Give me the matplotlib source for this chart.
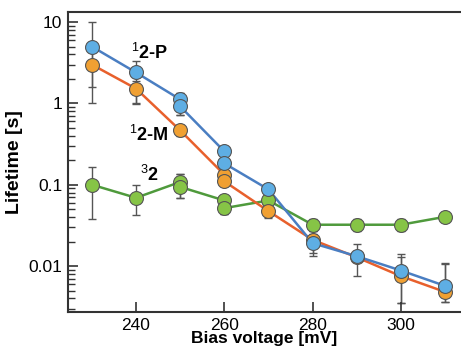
import numpy as np
import matplotlib.pyplot as plt
from matplotlib.ticker import LogLocator, NullFormatter

plt.rcParams['font.family'] = ['Liberation Sans', 'DejaVu Sans']
plt.rcParams['mathtext.fontset'] = 'custom'
plt.rcParams['mathtext.rm'] = 'Liberation Sans'

# bias voltage (mV); repeated voltages are repeated measurements
bias_p = [230, 240, 250, 250, 260, 260, 270, 280, 290, 300, 310]
life_p = [5.0, 2.4, 1.12, 0.92, 0.257, 0.183, 0.0875, 0.0191, 0.0132, 0.0088, 0.0057]
lo_p = [1.6, 1.0, 0.71, 0.71, 0.257, 0.183, 0.0875, 0.0132, 0.0075, 0.0035, 0.0036]
hi_p = [10.0, 3.3, 1.36, 1.36, 0.257, 0.183, 0.0875, 0.027, 0.0187, 0.0142, 0.0108]

bias_m = [230, 240, 250, 260, 260, 270, 280, 290, 300, 310]
life_m = [3.0, 1.52, 0.466, 0.133, 0.11, 0.0473, 0.021, 0.0128, 0.0075, 0.0048]
lo_m = [1.0, 0.97, 0.40, 0.133, 0.11, 0.039, 0.0145, 0.0128, 0.0035, 0.0036]
hi_m = [4.5, 1.9, 0.55, 0.133, 0.11, 0.0473, 0.025, 0.0128, 0.0128, 0.0105]

bias_t = [230, 240, 250, 250, 260, 260, 270, 280, 290, 300, 310]
life_t = [0.10, 0.069, 0.108, 0.094, 0.064, 0.0515, 0.064, 0.0322, 0.0322, 0.0322, 0.0403]
lo_t = [0.0374, 0.042, 0.068, 0.068, 0.044, 0.044, 0.064, 0.027, 0.027, 0.027, 0.0403]
hi_t = [0.165, 0.10, 0.134, 0.134, 0.064, 0.0515, 0.064, 0.0377, 0.0377, 0.0377, 0.0403]

series = [
    (bias_t, life_t, lo_t, hi_t, '#4f9a3c', '#86c446'),
    (bias_m, life_m, lo_m, hi_m, '#e8602c', '#f0a032'),
    (bias_p, life_p, lo_p, hi_p, '#4a7ec2', '#5eaee4'),
]

fig = plt.figure(figsize=(4.61, 3.49), dpi=100)
ax = fig.add_axes([0.1475, 0.106, 0.8525, 0.8596])

for x, y, lo, hi, lc, mc in series:
    y = np.array(y)
    yerr = [y - np.array(lo), np.array(hi) - y]
    ax.errorbar(x, y, yerr=yerr, fmt='none', ecolor='#555555', elinewidth=1.0,
                capsize=3, capthick=1.0, zorder=1)
    ax.plot(x, y, '-', color=lc, lw=1.8, zorder=2)
    ax.plot(x, y, 'o', ms=10, mfc=mc, mec='#555555', mew=0.8, zorder=3)

ax.set_yscale('log')
ax.set_ylim(0.00272, 13.3)
ax.set_xlim(224.6, 313.6)
ax.set_xticks([240, 260, 280, 300])
ax.set_yticks([0.01, 0.1, 1, 10])
ax.set_yticklabels(['0.01', '0.1', '1', '10'])
ax.yaxis.set_minor_locator(LogLocator(base=10, subs=np.arange(2, 10), numticks=20))
ax.yaxis.set_minor_formatter(NullFormatter())

ax.spines['right'].set_visible(False)
for s in ['left', 'bottom', 'top']:
    ax.spines[s].set_linewidth(1.5)
    ax.spines[s].set_color('#333333')
ax.tick_params(direction='in', which='major', length=7, width=1.2, labelsize=12.5,
               color='#333333', pad=4)
ax.tick_params(direction='in', which='minor', length=5, width=1.0, color='#333333')
ax.tick_params(axis='x', which='minor', bottom=False)
ax.tick_params(right=False, top=False, which='both')

ax.set_xlabel('Bias voltage [mV]', fontsize=12.5, fontweight='bold', labelpad=-1)
ax.set_ylabel('Lifetime [s]', fontsize=14, fontweight='bold', labelpad=4)

ax.text(243, 4.2, r'$^{1}$2-P', fontsize=13, fontweight='bold', ha='center', va='center')
ax.text(243, 0.41, r'$^{1}$2-M', fontsize=13, fontweight='bold', ha='center', va='center')
ax.text(243, 0.13, r'$^{3}$2', fontsize=13, fontweight='bold', ha='center', va='center')

fig.savefig('out.png', dpi=100)
